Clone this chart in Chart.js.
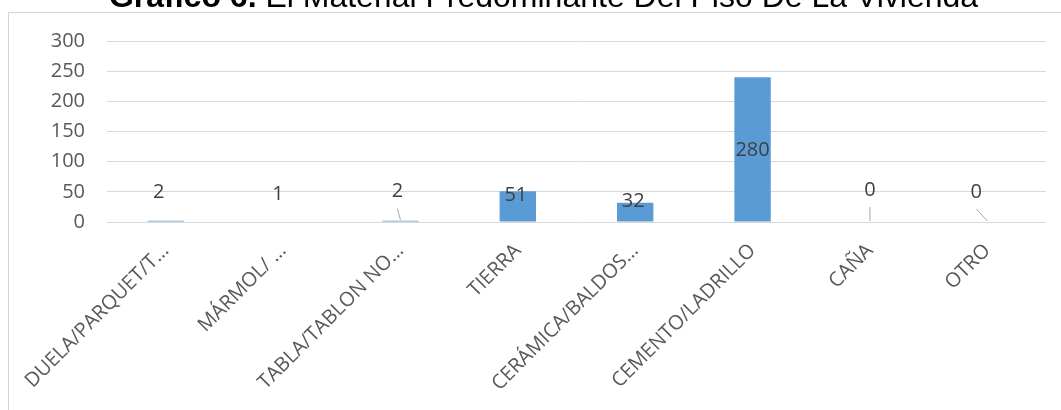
<!DOCTYPE html>
<html>
<head>
<meta charset="utf-8">
<script src="https://cdn.jsdelivr.net/npm/chart.js@4.4.0/dist/chart.umd.min.js"></script>
<style>
  html, body { margin: 0; padding: 0; background: #fff; }
  #wrap { position: relative; width: 1061px; height: 410px; overflow: hidden; }
  #frame { position: absolute; left: 8px; top: 12px; width: 1200px; height: 600px; border: 1px solid #d4d4d4; }
  #wrap canvas { position: absolute; left: 0; top: 0; }
</style>
</head>
<body>
<div id="wrap">
  <div id="frame"></div>
  <canvas id="myChart" width="1061" height="410"></canvas>
</div>
<script>
// datos del grafico
const titleBold = 'Gráfico 6.';
const titleRest = ' El Material Predominante Del Piso De La Vivienda';
const categories = ['DUELA/PARQUET/T…', 'MÁRMOL/ …', 'TABLA/TABLON NO…', 'TIERRA',
                    'CERÁMICA/BALDOS…', 'CEMENTO/LADRILLO', 'CAÑA', 'OTRO'];
// altura de las barras tal como se ve en el eje
const values = [2, 1, 2, 51, 32, 240, 0, 0];
// texto de las etiquetas de datos
const valueLabels = ['2', '1', '2', '51', '32', '280', '0', '0'];
const yMin = 0;
const yMax = 300;
const yStep = 50;

// etiquetas de datos (movidas a mano en el original, con lineas guia)
const barLabels = {
    id: 'barLabels',
    afterDatasetsDraw(chart, args, opts) {
        const ctx = chart.ctx;
        const meta = chart.getDatasetMeta(0);
        ctx.save();
        ctx.font = '20px "Open Sans"';
        ctx.fillStyle = '#404040';
        ctx.textAlign = 'center';
        ctx.textBaseline = 'middle';
        meta.data.forEach((bar, i) => {
            const x = bar.x + opts.dx[i];
            const y = bar.y - opts.lift[i];
            ctx.fillText(valueLabels[i], x, y);
            if (opts.leader[i]) {
                ctx.strokeStyle = '#a6a6a6';
                ctx.lineWidth = 1;
                ctx.beginPath();
                ctx.moveTo(x, y + 17);
                ctx.lineTo(bar.x, bar.y - 1);
                ctx.stroke();
            }
        });
        ctx.restore();
    }
};

// titulo cortado arriba, como en la imagen
const cutTitle = {
    id: 'cutTitle',
    afterDraw(chart) {
        const ctx = chart.ctx;
        ctx.save();
        ctx.fillStyle = '#000';
        ctx.textBaseline = 'alphabetic';
        ctx.textAlign = 'left';
        ctx.font = 'bold 32px "Liberation Sans", Arial';
        const wb = ctx.measureText(titleBold).width;
        ctx.font = '32px "Liberation Sans", Arial';
        const wr = ctx.measureText(titleRest).width;
        const x0 = 543.5 - (wb + wr) / 2;
        ctx.font = 'bold 32px "Liberation Sans", Arial';
        ctx.fillText(titleBold, x0, 7);
        ctx.font = '32px "Liberation Sans", Arial';
        ctx.fillText(titleRest, x0 + wb, 7);
        ctx.restore();
    }
};

const ctx = document.getElementById('myChart').getContext('2d');
const myChart = new Chart(ctx, {
    type: 'bar',
    data: {
        labels: categories,
        datasets: [{
            data: values,
            backgroundColor: '#5b9bd5',
            borderWidth: 0,
            barPercentage: 0.31,
            categoryPercentage: 1
        }]
    },
    options: {
        responsive: false,
        animation: false,
        layout: { padding: { top: 41, right: 15, left: 0, bottom: 0 } },
        scales: {
            y: {
                min: yMin,
                max: yMax,
                ticks: {
                    stepSize: yStep,
                    color: '#595959',
                    font: { family: 'Open Sans', size: 20 },
                    padding: 22
                },
                grid: { color: '#d9d9d9', drawTicks: false },
                border: { display: false },
                afterFit: s => { s.width = 107; }
            },
            x: {
                ticks: {
                    color: '#595959',
                    font: { family: 'Open Sans', size: 20 },
                    minRotation: 45,
                    maxRotation: 45,
                    autoSkip: false,
                    padding: 17
                },
                grid: { display: false, drawTicks: false },
                border: { display: false },
                afterFit: s => { s.height = 188; s.paddingLeft = 0; }
            }
        },
        plugins: {
            legend: { display: false },
            tooltip: { enabled: false },
            barLabels: {
                dx:     [-7, -5, -3, -2, -2, 0, 0, -11],
                lift:   [28, 27, 29, -4, 1, -73, 32, 30],
                leader: [false, false, true, false, false, false, true, true]
            }
        }
    },
    plugins: [barLabels, cutTitle]
});
</script>
</body>
</html>
